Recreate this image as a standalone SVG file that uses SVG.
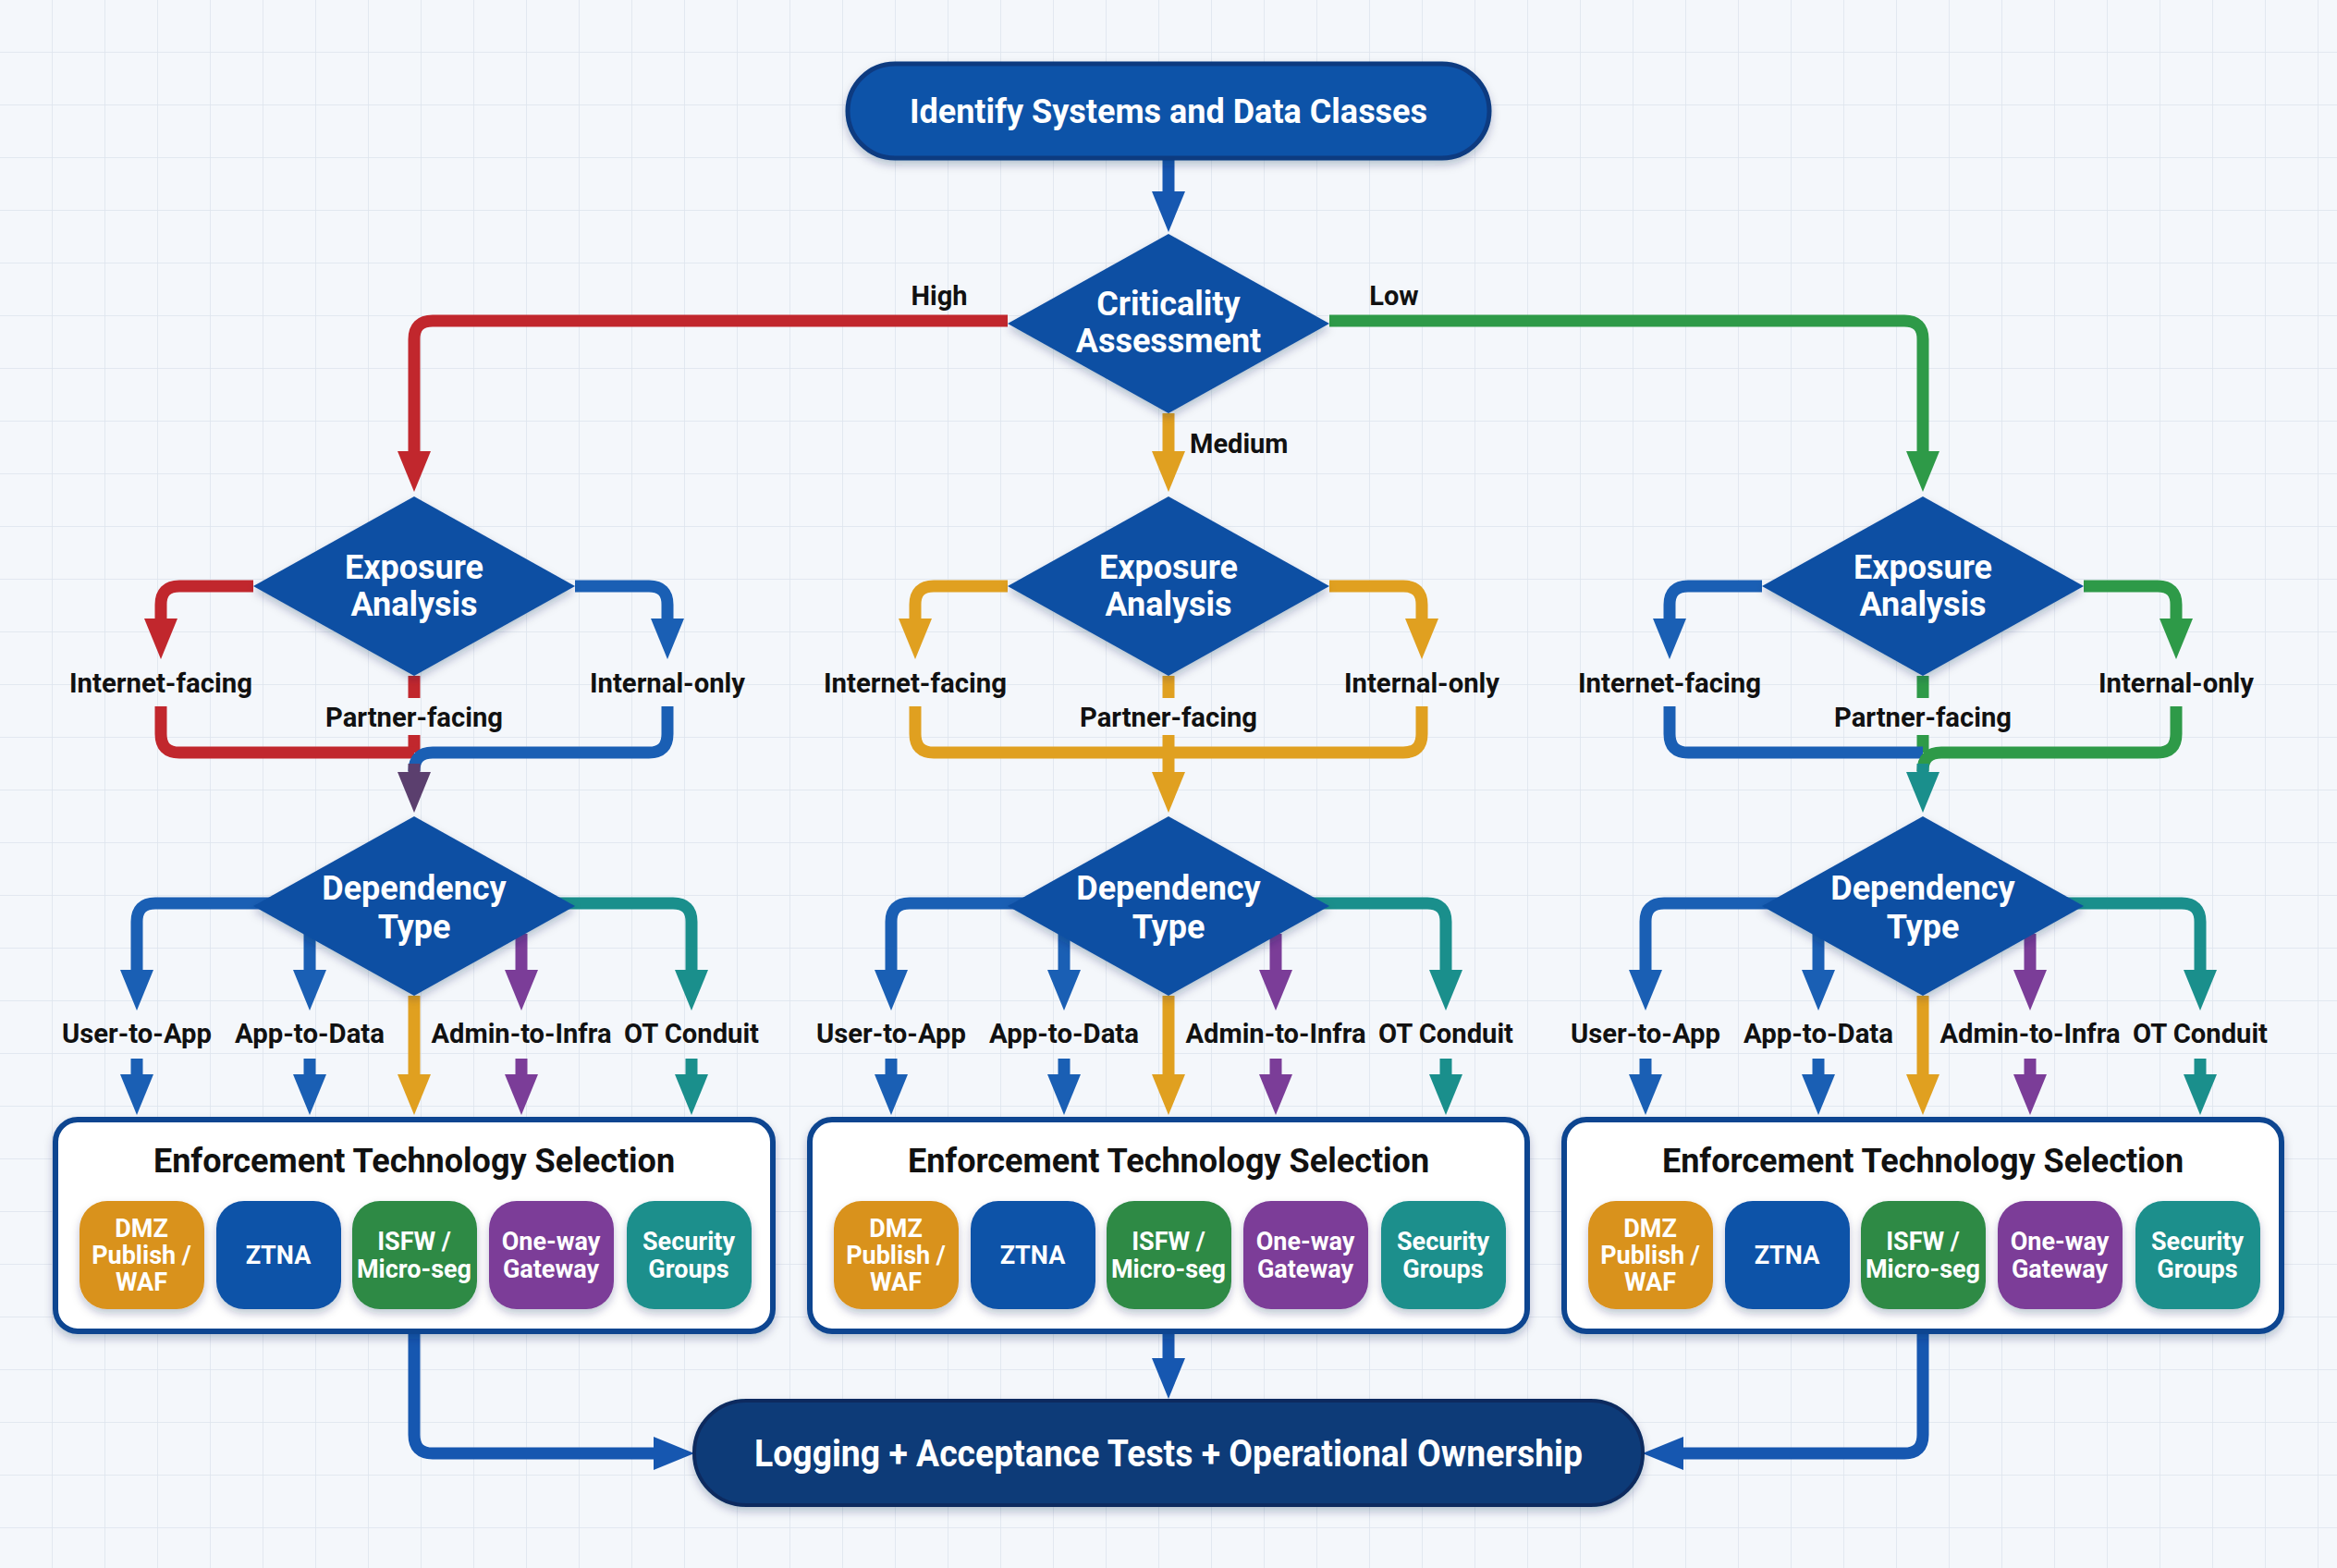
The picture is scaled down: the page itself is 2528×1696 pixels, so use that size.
<svg xmlns="http://www.w3.org/2000/svg" width="2528" height="1696" viewBox="0 0 2528 1696">
<defs>
<pattern id="grid" width="57" height="57" patternUnits="userSpaceOnUse"><path d="M57 0V57H0" fill="none" stroke="#dde4ed" stroke-width="1.5"/></pattern>
<filter id="sh" x="-10%" y="-10%" width="120%" height="130%"><feDropShadow dx="0" dy="5" stdDeviation="5" flood-color="#0a2050" flood-opacity="0.25"/></filter>
<marker id="mR" viewBox="0 0 44 36" refX="4" refY="18" markerWidth="44" markerHeight="36" markerUnits="userSpaceOnUse" orient="auto"><path d="M0 0L44 18L0 36z" fill="#c1272d"/></marker>
<marker id="mG" viewBox="0 0 44 36" refX="4" refY="18" markerWidth="44" markerHeight="36" markerUnits="userSpaceOnUse" orient="auto"><path d="M0 0L44 18L0 36z" fill="#2e9a48"/></marker>
<marker id="mO" viewBox="0 0 44 36" refX="4" refY="18" markerWidth="44" markerHeight="36" markerUnits="userSpaceOnUse" orient="auto"><path d="M0 0L44 18L0 36z" fill="#e0a020"/></marker>
<marker id="mB" viewBox="0 0 44 36" refX="4" refY="18" markerWidth="44" markerHeight="36" markerUnits="userSpaceOnUse" orient="auto"><path d="M0 0L44 18L0 36z" fill="#1a5fb4"/></marker>
<marker id="mP" viewBox="0 0 44 36" refX="4" refY="18" markerWidth="44" markerHeight="36" markerUnits="userSpaceOnUse" orient="auto"><path d="M0 0L44 18L0 36z" fill="#7b3d98"/></marker>
<marker id="mT" viewBox="0 0 44 36" refX="4" refY="18" markerWidth="44" markerHeight="36" markerUnits="userSpaceOnUse" orient="auto"><path d="M0 0L44 18L0 36z" fill="#1a8f8c"/></marker>
<marker id="mM" viewBox="0 0 44 36" refX="4" refY="18" markerWidth="44" markerHeight="36" markerUnits="userSpaceOnUse" orient="auto"><path d="M0 0L44 18L0 36z" fill="#5b3f6e"/></marker>
<marker id="mN" viewBox="0 0 44 36" refX="4" refY="18" markerWidth="44" markerHeight="36" markerUnits="userSpaceOnUse" orient="auto"><path d="M0 0L44 18L0 36z" fill="#1657b0"/></marker>
</defs>
<style>
text{font-family:Roboto,"Liberation Sans",sans-serif;font-weight:700;text-anchor:middle}
.w{fill:#fff}
.k{fill:#111;font-size:29px}
.c{fill:none;stroke-width:13;stroke-linejoin:round}
.r{stroke:#c1272d}.g{stroke:#2e9a48}.o{stroke:#e0a020}.b{stroke:#1a5fb4}.p{stroke:#7b3d98}.t{stroke:#1a8f8c}.m{stroke:#5b3f6e}.n{stroke:#1657b0}
.dia{fill:#0f4fa3;filter:url(#sh)}
.box{fill:#fff;stroke:#0d4590;stroke-width:6;filter:url(#sh)}
.chip{filter:url(#sh)}
.ct{fill:#fff;font-size:27px}
</style>
<rect width="2528" height="1696" fill="#f4f7fb"/>
<rect width="2528" height="1696" fill="url(#grid)"/>

<g id="connectors">
<path class="c n" d="M1264 171V211" marker-end="url(#mN)"/>
<path class="c r" d="M1090 347H468Q448 347 448 367V492" marker-end="url(#mR)"/>
<path class="c g" d="M1438 347H2060Q2080 347 2080 367V492" marker-end="url(#mG)"/>
<path class="c o" d="M1264 447V492" marker-end="url(#mO)"/>
<g transform="translate(448,0)">
<path class="c r" d="M-174 634H-254Q-274 634 -274 654V673" marker-end="url(#mR)"/>
<path class="c b" d="M174 634H254Q274 634 274 654V673" marker-end="url(#mB)"/>
<path class="c r" d="M0 731V755M0 795V814"/>
<path class="c r" d="M-274 764V794Q-274 814 -254 814H0"/>
<path class="c b" d="M274 764V794Q274 814 254 814H20Q0 814 0 834"/>
<path class="c m" d="M0 826V839" marker-end="url(#mM)"/>
</g>
<g transform="translate(1264,0)">
<path class="c o" d="M-174 634H-254Q-274 634 -274 654V673" marker-end="url(#mO)"/>
<path class="c o" d="M174 634H254Q274 634 274 654V673" marker-end="url(#mO)"/>
<path class="c o" d="M0 731V755M0 795V814"/>
<path class="c o" d="M-274 764V794Q-274 814 -254 814H254Q274 814 274 794V764M0 814V839" marker-end="url(#mO)"/>
</g>
<g transform="translate(2080,0)">
<path class="c b" d="M-174 634H-254Q-274 634 -274 654V673" marker-end="url(#mB)"/>
<path class="c g" d="M174 634H254Q274 634 274 654V673" marker-end="url(#mG)"/>
<path class="c g" d="M0 731V755M0 795V814"/>
<path class="c b" d="M-274 764V794Q-274 814 -254 814H0"/>
<path class="c g" d="M274 764V794Q274 814 254 814H20Q0 814 0 834"/>
<path class="c t" d="M0 826V839" marker-end="url(#mT)"/>
</g>
<g transform="translate(448,0)">
<path class="c b" d="M-120 977H-280Q-300 977 -300 997V1053" marker-end="url(#mB)"/>
<path class="c b" d="M-113 1010V1053" marker-end="url(#mB)"/>
<path class="c p" d="M116 1010V1053" marker-end="url(#mP)"/>
<path class="c t" d="M120 977H280Q300 977 300 997V1053" marker-end="url(#mT)"/>
<path class="c o" d="M0 1077V1166" marker-end="url(#mO)"/>
<path class="c b" d="M-300 1145V1166" marker-end="url(#mB)"/>
<path class="c b" d="M-113 1145V1166" marker-end="url(#mB)"/>
<path class="c p" d="M116 1145V1166" marker-end="url(#mP)"/>
<path class="c t" d="M300 1145V1166" marker-end="url(#mT)"/>
</g>
<g transform="translate(1264,0)">
<path class="c b" d="M-120 977H-280Q-300 977 -300 997V1053" marker-end="url(#mB)"/>
<path class="c b" d="M-113 1010V1053" marker-end="url(#mB)"/>
<path class="c p" d="M116 1010V1053" marker-end="url(#mP)"/>
<path class="c t" d="M120 977H280Q300 977 300 997V1053" marker-end="url(#mT)"/>
<path class="c o" d="M0 1077V1166" marker-end="url(#mO)"/>
<path class="c b" d="M-300 1145V1166" marker-end="url(#mB)"/>
<path class="c b" d="M-113 1145V1166" marker-end="url(#mB)"/>
<path class="c p" d="M116 1145V1166" marker-end="url(#mP)"/>
<path class="c t" d="M300 1145V1166" marker-end="url(#mT)"/>
</g>
<g transform="translate(2080,0)">
<path class="c b" d="M-120 977H-280Q-300 977 -300 997V1053" marker-end="url(#mB)"/>
<path class="c b" d="M-113 1010V1053" marker-end="url(#mB)"/>
<path class="c p" d="M116 1010V1053" marker-end="url(#mP)"/>
<path class="c t" d="M120 977H280Q300 977 300 997V1053" marker-end="url(#mT)"/>
<path class="c o" d="M0 1077V1166" marker-end="url(#mO)"/>
<path class="c b" d="M-300 1145V1166" marker-end="url(#mB)"/>
<path class="c b" d="M-113 1145V1166" marker-end="url(#mB)"/>
<path class="c p" d="M116 1145V1166" marker-end="url(#mP)"/>
<path class="c t" d="M300 1145V1166" marker-end="url(#mT)"/>
</g>
<path class="c n" d="M448 1440V1552Q448 1572 468 1572H711" marker-end="url(#mN)"/>
<path class="c n" d="M2080 1440V1552Q2080 1572 2060 1572H1817" marker-end="url(#mN)"/>
<path class="c n" d="M1264 1440V1473" marker-end="url(#mN)"/>
<text class="k" x="1016" y="330">High</text>
<text class="k" x="1508" y="330">Low</text>
<text class="k" x="1287" y="490" style="text-anchor:start">Medium</text>
<g transform="translate(448,0)">
<text class="k" x="-274" y="749" textLength="198" lengthAdjust="spacingAndGlyphs">Internet-facing</text>
<text class="k" x="274" y="749" textLength="168" lengthAdjust="spacingAndGlyphs">Internal-only</text>
<text class="k" x="0" y="786" textLength="192" lengthAdjust="spacingAndGlyphs">Partner-facing</text>
<text class="k" x="-300" y="1128" textLength="162" lengthAdjust="spacingAndGlyphs">User-to-App</text>
<text class="k" x="-113" y="1128" textLength="162" lengthAdjust="spacingAndGlyphs">App-to-Data</text>
<text class="k" x="116" y="1128" textLength="195" lengthAdjust="spacingAndGlyphs">Admin-to-Infra</text>
<text class="k" x="300" y="1128" textLength="146" lengthAdjust="spacingAndGlyphs">OT Conduit</text>
</g>
<g transform="translate(1264,0)">
<text class="k" x="-274" y="749" textLength="198" lengthAdjust="spacingAndGlyphs">Internet-facing</text>
<text class="k" x="274" y="749" textLength="168" lengthAdjust="spacingAndGlyphs">Internal-only</text>
<text class="k" x="0" y="786" textLength="192" lengthAdjust="spacingAndGlyphs">Partner-facing</text>
<text class="k" x="-300" y="1128" textLength="162" lengthAdjust="spacingAndGlyphs">User-to-App</text>
<text class="k" x="-113" y="1128" textLength="162" lengthAdjust="spacingAndGlyphs">App-to-Data</text>
<text class="k" x="116" y="1128" textLength="195" lengthAdjust="spacingAndGlyphs">Admin-to-Infra</text>
<text class="k" x="300" y="1128" textLength="146" lengthAdjust="spacingAndGlyphs">OT Conduit</text>
</g>
<g transform="translate(2080,0)">
<text class="k" x="-274" y="749" textLength="198" lengthAdjust="spacingAndGlyphs">Internet-facing</text>
<text class="k" x="274" y="749" textLength="168" lengthAdjust="spacingAndGlyphs">Internal-only</text>
<text class="k" x="0" y="786" textLength="192" lengthAdjust="spacingAndGlyphs">Partner-facing</text>
<text class="k" x="-300" y="1128" textLength="162" lengthAdjust="spacingAndGlyphs">User-to-App</text>
<text class="k" x="-113" y="1128" textLength="162" lengthAdjust="spacingAndGlyphs">App-to-Data</text>
<text class="k" x="116" y="1128" textLength="195" lengthAdjust="spacingAndGlyphs">Admin-to-Infra</text>
<text class="k" x="300" y="1128" textLength="146" lengthAdjust="spacingAndGlyphs">OT Conduit</text>
</g>
</g>

<g id="start">
<rect x="917" y="69" width="694" height="102" rx="51" fill="#0f52a8" stroke="#0a3a80" stroke-width="5" filter="url(#sh)"/>
<text class="w" x="1264" y="133" font-size="36">Identify Systems and Data Classes</text>
</g>
<g id="criticality">
<path class="dia" d="M1264 253L1438 350L1264 447L1090 350Z"/>
<text class="w" x="1264" y="341" font-size="36">Criticality</text>
<text class="w" x="1264" y="381" font-size="36">Assessment</text>
</g>

<g id="exposure-high" transform="translate(448,0)">
<path class="dia" d="M0 537L174 634L0 731L-174 634Z"/>
<text class="w" x="0" y="626" font-size="36">Exposure</text><text class="w" x="0" y="666" font-size="36">Analysis</text>
</g>
<g id="exposure-medium" transform="translate(1264,0)">
<path class="dia" d="M0 537L174 634L0 731L-174 634Z"/>
<text class="w" x="0" y="626" font-size="36">Exposure</text><text class="w" x="0" y="666" font-size="36">Analysis</text>
</g>
<g id="exposure-low" transform="translate(2080,0)">
<path class="dia" d="M0 537L174 634L0 731L-174 634Z"/>
<text class="w" x="0" y="626" font-size="36">Exposure</text><text class="w" x="0" y="666" font-size="36">Analysis</text>
</g>

<g id="dependency-high" transform="translate(448,0)">
<path class="dia" d="M0 883L174 980L0 1077L-174 980Z"/>
<text class="w" x="0" y="973" font-size="36">Dependency</text><text class="w" x="0" y="1015" font-size="36">Type</text>
</g>
<g id="dependency-medium" transform="translate(1264,0)">
<path class="dia" d="M0 883L174 980L0 1077L-174 980Z"/>
<text class="w" x="0" y="973" font-size="36">Dependency</text><text class="w" x="0" y="1015" font-size="36">Type</text>
</g>
<g id="dependency-low" transform="translate(2080,0)">
<path class="dia" d="M0 883L174 980L0 1077L-174 980Z"/>
<text class="w" x="0" y="973" font-size="36">Dependency</text><text class="w" x="0" y="1015" font-size="36">Type</text>
</g>

<g id="enforcement-high" transform="translate(448,0)">
<rect class="box" x="-388" y="1211" width="776" height="229" rx="24"/>
<text x="0" y="1268" font-size="36" fill="#111">Enforcement Technology Selection</text>
<rect class="chip" x="-362" y="1299" width="135" height="117" rx="30" fill="#d9921a"/>
<text class="ct" x="-295" y="1338">DMZ</text><text class="ct" x="-295" y="1367">Publish /</text><text class="ct" x="-295" y="1396">WAF</text>
<rect class="chip" x="-214" y="1299" width="135" height="117" rx="30" fill="#0f52a8"/>
<text class="ct" x="-147" y="1367">ZTNA</text>
<rect class="chip" x="-67" y="1299" width="135" height="117" rx="30" fill="#2e8a45"/>
<text class="ct" x="0" y="1352">ISFW /</text><text class="ct" x="0" y="1382">Micro-seg</text>
<rect class="chip" x="81" y="1299" width="135" height="117" rx="30" fill="#7b3d98"/>
<text class="ct" x="148" y="1352">One-way</text><text class="ct" x="148" y="1382">Gateway</text>
<rect class="chip" x="230" y="1299" width="135" height="117" rx="30" fill="#1a8f8c"/>
<text class="ct" x="297" y="1352">Security</text><text class="ct" x="297" y="1382">Groups</text>
</g>
<g id="enforcement-medium" transform="translate(1264,0)">
<rect class="box" x="-388" y="1211" width="776" height="229" rx="24"/>
<text x="0" y="1268" font-size="36" fill="#111">Enforcement Technology Selection</text>
<rect class="chip" x="-362" y="1299" width="135" height="117" rx="30" fill="#d9921a"/>
<text class="ct" x="-295" y="1338">DMZ</text><text class="ct" x="-295" y="1367">Publish /</text><text class="ct" x="-295" y="1396">WAF</text>
<rect class="chip" x="-214" y="1299" width="135" height="117" rx="30" fill="#0f52a8"/>
<text class="ct" x="-147" y="1367">ZTNA</text>
<rect class="chip" x="-67" y="1299" width="135" height="117" rx="30" fill="#2e8a45"/>
<text class="ct" x="0" y="1352">ISFW /</text><text class="ct" x="0" y="1382">Micro-seg</text>
<rect class="chip" x="81" y="1299" width="135" height="117" rx="30" fill="#7b3d98"/>
<text class="ct" x="148" y="1352">One-way</text><text class="ct" x="148" y="1382">Gateway</text>
<rect class="chip" x="230" y="1299" width="135" height="117" rx="30" fill="#1a8f8c"/>
<text class="ct" x="297" y="1352">Security</text><text class="ct" x="297" y="1382">Groups</text>
</g>
<g id="enforcement-low" transform="translate(2080,0)">
<rect class="box" x="-388" y="1211" width="776" height="229" rx="24"/>
<text x="0" y="1268" font-size="36" fill="#111">Enforcement Technology Selection</text>
<rect class="chip" x="-362" y="1299" width="135" height="117" rx="30" fill="#d9921a"/>
<text class="ct" x="-295" y="1338">DMZ</text><text class="ct" x="-295" y="1367">Publish /</text><text class="ct" x="-295" y="1396">WAF</text>
<rect class="chip" x="-214" y="1299" width="135" height="117" rx="30" fill="#0f52a8"/>
<text class="ct" x="-147" y="1367">ZTNA</text>
<rect class="chip" x="-67" y="1299" width="135" height="117" rx="30" fill="#2e8a45"/>
<text class="ct" x="0" y="1352">ISFW /</text><text class="ct" x="0" y="1382">Micro-seg</text>
<rect class="chip" x="81" y="1299" width="135" height="117" rx="30" fill="#7b3d98"/>
<text class="ct" x="148" y="1352">One-way</text><text class="ct" x="148" y="1382">Gateway</text>
<rect class="chip" x="230" y="1299" width="135" height="117" rx="30" fill="#1a8f8c"/>
<text class="ct" x="297" y="1352">Security</text><text class="ct" x="297" y="1382">Groups</text>
</g>

<g id="final">
<rect x="751" y="1515" width="1026" height="113" rx="56" fill="#0b3a78" stroke="#082c5e" stroke-width="4" filter="url(#sh)"/>
<text class="w" x="1264" y="1586" font-size="40" textLength="896" lengthAdjust="spacingAndGlyphs">Logging + Acceptance Tests + Operational Ownership</text>
</g>
</svg>
